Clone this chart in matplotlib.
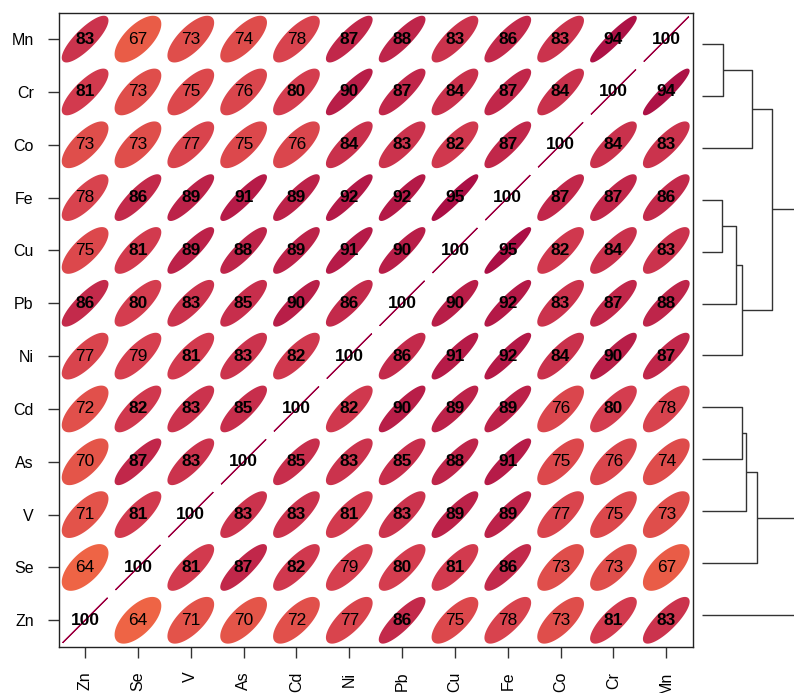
import numpy as np
import matplotlib
matplotlib.use("Agg")
import matplotlib.pyplot as plt
from matplotlib.patches import Polygon

# variables, left-to-right on x and bottom-to-top on y
variables = ["Zn", "Se", "V", "As", "Cd", "Ni", "Pb", "Cu", "Fe", "Co", "Cr", "Mn"]

# correlation (x100) rows, columns in `variables` order
r_Mn = [83, 67, 73, 74, 78, 87, 88, 83, 86, 83, 94, 100]
r_Cr = [81, 73, 75, 76, 80, 90, 87, 84, 87, 84, 100, 94]
r_Co = [73, 73, 77, 75, 76, 84, 83, 82, 87, 100, 84, 83]
r_Fe = [78, 86, 89, 91, 89, 92, 92, 95, 100, 87, 87, 86]
r_Cu = [75, 81, 89, 88, 89, 91, 90, 100, 95, 82, 84, 83]
r_Pb = [86, 80, 83, 85, 90, 86, 100, 90, 92, 83, 87, 88]
r_Ni = [77, 79, 81, 83, 82, 100, 86, 91, 92, 84, 90, 87]
r_Cd = [72, 82, 83, 85, 100, 82, 90, 89, 89, 76, 80, 78]
r_As = [70, 87, 83, 100, 85, 83, 85, 88, 91, 75, 76, 74]
r_V = [71, 81, 100, 83, 83, 81, 83, 89, 89, 77, 75, 73]
r_Se = [64, 100, 81, 87, 82, 79, 80, 81, 86, 73, 73, 67]
r_Zn = [100, 64, 71, 70, 72, 77, 86, 75, 78, 73, 81, 83]

rows = {"Mn": r_Mn, "Cr": r_Cr, "Co": r_Co, "Fe": r_Fe, "Cu": r_Cu, "Pb": r_Pb,
        "Ni": r_Ni, "Cd": r_Cd, "As": r_As, "V": r_V, "Se": r_Se, "Zn": r_Zn}

# dendrogram merges: (left, right, height)
dendro_merges = [
    ("Mn", "Cr", 21), ("Mn+Cr", "Co", 50),
    ("Fe", "Cu", 20), ("Fe+Cu", "Pb", 34), ("Fe+Cu+Pb", "Ni", 40),
    ("Mn+Cr+Co", "Fe+Cu+Pb+Ni", 70),
    ("Cd", "As", 40), ("Cd+As", "V", 44), ("Cd+As+V", "Se", 55),
    ("Mn+Cr+Co+Fe+Cu+Pb+Ni", "Cd+As+V+Se", 100),
    ("Mn+Cr+Co+Fe+Cu+Pb+Ni+Cd+As+V+Se", "Zn", 115),
]

plt.rcParams["font.family"] = ["Liberation Sans", "DejaVu Sans"]

W, H = 794, 693
fig = plt.figure(figsize=(W / 100, H / 100), dpi=100)

left, right, top, bottom = 58.7, 692.7, 12.7, 646.7
ax = fig.add_axes([left / W, 1 - bottom / H, (right - left) / W, (bottom - top) / H])
n = len(variables)
ax.set_xlim(-0.5, n - 0.5)
ax.set_ylim(-0.5, n - 0.5)

cmap = plt.get_cmap("Spectral_r")
t = np.linspace(0, 2 * np.pi, 200)
s = 0.425
for j, rv in enumerate(variables):
    vals = rows[rv]
    for i, cv in enumerate(variables):
        v = vals[i]
        r = v / 100.0
        d = np.arccos(np.clip(r, -1, 1))
        xs = i + s * np.cos(t + d / 2)
        ys = j + s * np.cos(t - d / 2)
        col = cmap((r + 1) / 2)
        poly = Polygon(np.column_stack([xs, ys]), closed=True, facecolor=col,
                       edgecolor=col, lw=1.3 if v < 100 else 0.9)
        ax.add_patch(poly)
        ax.text(i, j, str(v), ha="center", va="center", fontsize=12.5,
                fontweight="bold" if v >= 80 else "normal", color="black")

ax.set_xticks(range(n))
ax.set_xticklabels(variables, rotation=90, fontsize=11.5)
ax.set_yticks(range(n))
ax.set_yticklabels(variables, fontsize=11.5)
ax.tick_params(length=8, width=1, color="#333333", pad=10)
for sp in ax.spines.values():
    sp.set_linewidth(1)
    sp.set_color("#222222")

# dendrogram
leaf_top, leaf_bot = 44.0, 615.0
spacing = (leaf_bot - leaf_top) / (n - 1)
dtop = leaf_top - spacing / 2
dbot = leaf_bot + spacing / 2
dleft = 702
dax = fig.add_axes([dleft / W, 1 - dbot / H, (W - dleft) / W, (dbot - dtop) / H])
dax.set_xlim(0, W - dleft)
dax.set_ylim(-0.5, n - 0.5)
dax.axis("off")
nodes = {v: (j, 0.0) for j, v in enumerate(variables)}
for a, b, h in dendro_merges:
    ya, ha = nodes[a]
    yb, hb = nodes[b]
    dax.plot([ha, h, h, hb], [ya, ya, yb, yb], color="#333333", lw=1,
             solid_capstyle="butt", clip_on=True)
    nodes[a + "+" + b] = ((ya + yb) / 2, h)

fig.savefig("out.png", dpi=100)
